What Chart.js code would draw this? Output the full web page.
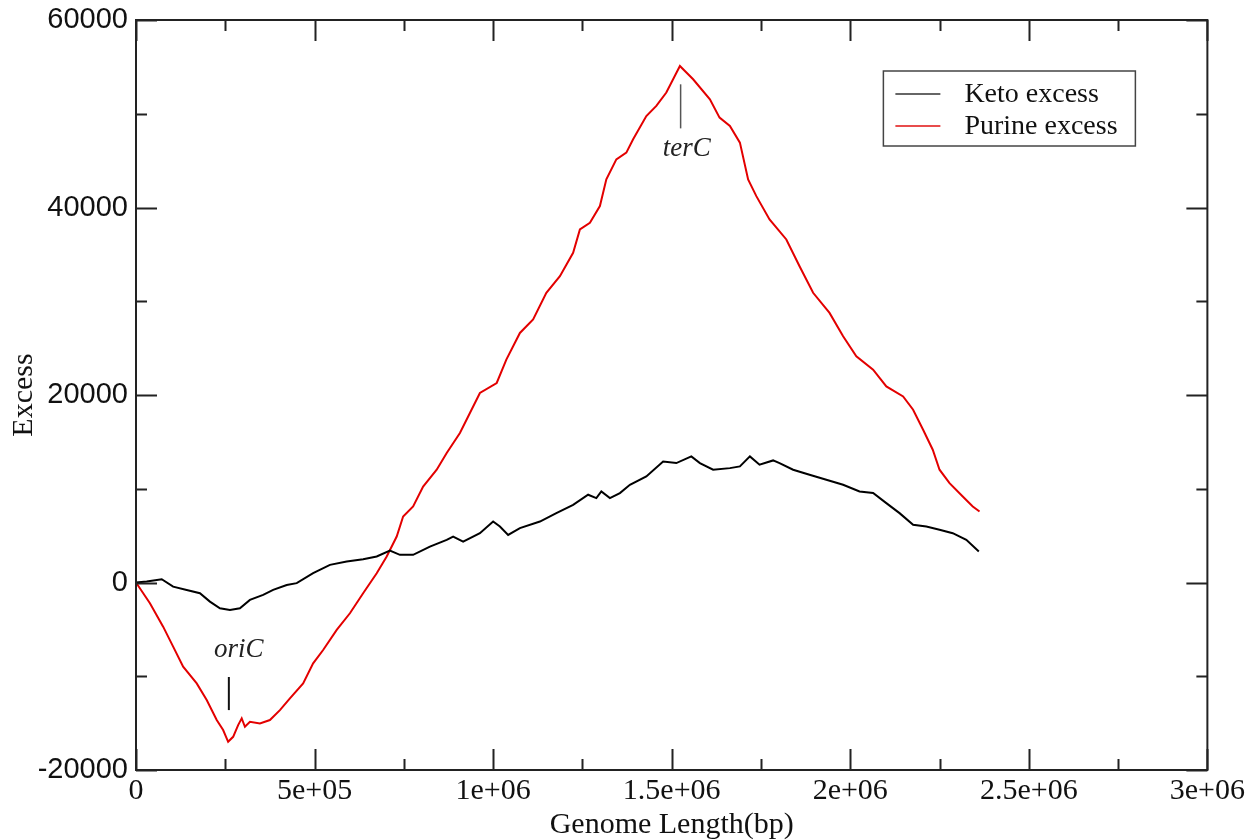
<!DOCTYPE html>
<html>
<head>
<meta charset="utf-8">
<title>Keto / Purine excess</title>
<script src="https://cdn.jsdelivr.net/npm/chart.js@4"></script>
<style>
  html, body { margin: 0; padding: 0; background: #fff; }
  #wrap { width: 1248px; height: 840px; position: relative; }
</style>
</head>
<body>
<div id="wrap"><canvas id="skew-chart"></canvas></div>
<script>
// Genome position (bp) and cumulative excess
const ketoPos = [0, 30000, 72000, 104000, 142000, 179000, 207000, 235000, 263000, 291000,
  319000, 356000, 384000, 422000, 450000, 496000, 543000, 590000, 636000, 674000,
  711000, 739000, 776000, 823000, 870000, 888000, 916000, 963000, 1000000, 1019000,
  1042000, 1075000, 1131000, 1177000, 1224000, 1266000, 1289000, 1303000, 1327000, 1355000,
  1383000, 1429000, 1476000, 1513000, 1555000, 1579000, 1616000, 1663000, 1691000, 1719000,
  1746000, 1784000, 1802000, 1840000, 1886000, 1933000, 1980000, 2026000, 2064000, 2101000,
  2138000, 2176000, 2213000, 2250000, 2287000, 2325000, 2360000];
const ketoExcess = [0, 100, 350, -440, -790, -1140, -2040, -2750, -2930, -2750,
  -1860, -1320, -790, -260, -70, 990, 1880, 2230, 2490, 2770,
  3400, 2950, 2950, 3830, 4550, 4900, 4370, 5260, 6500, 5970,
  5080, 5800, 6500, 7400, 8290, 9360, 9000, 9710, 9000, 9540,
  10420, 11310, 12910, 12740, 13450, 12740, 12030, 12200, 12380, 13450,
  12560, 13020, 12740, 12030, 11490, 10960, 10420, 9710, 9540, 8470,
  7400, 6150, 5970, 5620, 5260, 4550, 3300];

const purinePos = [0, 39000, 76000, 104000, 132000, 170000, 198000, 226000, 244000, 258000,
  272000, 286000, 296000, 305000, 319000, 347000, 375000, 403000, 431000, 468000,
  496000, 524000, 562000, 599000, 636000, 674000, 702000, 730000, 748000, 776000,
  804000, 842000, 870000, 907000, 935000, 963000, 1010000, 1037000, 1075000, 1112000,
  1149000, 1187000, 1224000, 1243000, 1271000, 1299000, 1317000, 1345000, 1373000, 1392000,
  1429000, 1457000, 1485000, 1523000, 1560000, 1607000, 1634000, 1663000, 1691000, 1714000,
  1737000, 1774000, 1821000, 1858000, 1896000, 1942000, 1980000, 2017000, 2064000, 2101000,
  2148000, 2176000, 2204000, 2231000, 2250000, 2278000, 2315000, 2343000, 2362000];
const purineExcess = [0, -2210, -4710, -6840, -8980, -10760, -12540, -14670, -15740, -16990,
  -16460, -15210, -14490, -15390, -14850, -15030, -14670, -13610, -12360, -10760,
  -8620, -7200, -5060, -3280, -1140, 990, 2770, 4900, 7040, 8110,
  10240, 12030, 13810, 15950, 18080, 20220, 21280, 23770, 26620, 28050,
  30900, 32670, 35170, 37660, 38370, 40150, 43000, 45140, 45850, 47270,
  49760, 50830, 52260, 55100, 53680, 51540, 49590, 48690, 46920, 43000,
  41210, 38730, 36590, 33740, 30900, 28760, 26260, 24130, 22710, 20920,
  19850, 18430, 16300, 14160, 12030, 10600, 9170, 8110, 7570];

const seriesNames = ['Keto excess', 'Purine excess'];

// axis ticks
const xMajor = [0, 500000, 1000000, 1500000, 2000000, 2500000, 3000000];
const xTickLabels = ['0', '5e+05', '1e+06', '1.5e+06', '2e+06', '2.5e+06', '3e+06'];
const xMinor = [250000, 750000, 1250000, 1750000, 2250000, 2750000];
const yMajor = [-20000, 0, 20000, 40000, 60000];
const yTickLabels = ['-20000', '0', '20000', '40000', '60000'];
const yMinor = [-10000, 10000, 30000, 50000];

// marker labels: text, x of text, y of text, x of bar, bar from, bar to
const markerText = ['oriC', 'terC'];
const markerTextX = [288000, 1542000];
const markerTextY = [-7200, 46200];
const markerBarX = [260000, 1525000];
const markerBarFrom = [-10080, 53140];
const markerBarTo = [-13610, 48440];

const toXY = (xs, ys) => xs.map((v, i) => ({ x: v, y: ys[i] }));

// box with inward ticks on all four sides, xmgrace style
const frameTicks = {
  id: 'frameTicks',
  afterDatasetsDraw(chart) {
    const { ctx, chartArea: a, scales: { x, y } } = chart;
    ctx.save();
    ctx.strokeStyle = '#222';
    ctx.lineWidth = 2;
    ctx.strokeRect(a.left, a.top, a.right - a.left, a.bottom - a.top);
    ctx.beginPath();
    const xMarks = (vals, len) => {
      for (const v of vals) {
        const px = Math.round(x.getPixelForValue(v)) + 0.5;
        ctx.moveTo(px, a.bottom); ctx.lineTo(px, a.bottom - len);
        ctx.moveTo(px, a.top); ctx.lineTo(px, a.top + len);
      }
    };
    const yMarks = (vals, len) => {
      for (const v of vals) {
        const py = Math.round(y.getPixelForValue(v)) + 0.5;
        ctx.moveTo(a.left, py); ctx.lineTo(a.left + len, py);
        ctx.moveTo(a.right, py); ctx.lineTo(a.right - len, py);
      }
    };
    xMarks(xMajor, 21); xMarks(xMinor, 11);
    yMarks(yMajor, 21); yMarks(yMinor, 11);
    ctx.stroke();
    ctx.restore();
  }
};

const markers = {
  id: 'markers',
  afterDatasetsDraw(chart) {
    const { ctx, scales: { x, y } } = chart;
    ctx.save();
    markerText.forEach((t, i) => {
      const bx = x.getPixelForValue(markerBarX[i]);
      ctx.beginPath();
      ctx.strokeStyle = i === 0 ? '#111' : '#555';
      ctx.lineWidth = i === 0 ? 2 : 1.5;
      ctx.moveTo(bx, y.getPixelForValue(markerBarFrom[i]));
      ctx.lineTo(bx, y.getPixelForValue(markerBarTo[i]));
      ctx.stroke();
      ctx.fillStyle = '#222';
      ctx.font = 'italic 27px "Liberation Serif"';
      ctx.textAlign = 'center';
      ctx.textBaseline = 'middle';
      ctx.fillText(t, x.getPixelForValue(markerTextX[i]), y.getPixelForValue(markerTextY[i]));
    });
    ctx.restore();
  }
};

// legend box inside the plot, top right
const boxLegend = {
  id: 'boxLegend',
  afterDraw(chart) {
    const { ctx, chartArea: a } = chart;
    const w = 252, h = 75;
    const left = a.right - 72 - w, top = a.top + 51;
    ctx.save();
    ctx.fillStyle = '#fff';
    ctx.fillRect(left, top, w, h);
    ctx.strokeStyle = '#444';
    ctx.lineWidth = 1.5;
    ctx.strokeRect(left, top, w, h);
    ctx.font = '28px "Liberation Serif"';
    ctx.textBaseline = 'middle';
    ctx.textAlign = 'left';
    chart.data.datasets.forEach((ds, i) => {
      const ly = top + 23 + i * 32;
      ctx.beginPath();
      ctx.strokeStyle = i === 0 ? '#333' : '#e01010';
      ctx.lineWidth = 1.5;
      ctx.moveTo(left + 12, ly);
      ctx.lineTo(left + 57, ly);
      ctx.stroke();
      ctx.fillStyle = '#111';
      ctx.fillText(ds.label, left + 81, ly + 1);
    });
    ctx.restore();
  }
};

new Chart(document.getElementById('skew-chart'), {
  type: 'line',
  data: {
    datasets: [{
      label: seriesNames[0],
      data: toXY(ketoPos, ketoExcess),
      borderColor: '#000',
      borderWidth: 2,
      pointRadius: 0,
      tension: 0
    }, {
      label: seriesNames[1],
      data: toXY(purinePos, purineExcess),
      borderColor: '#e30000',
      borderWidth: 2,
      pointRadius: 0,
      tension: 0
    }]
  },
  options: {
    responsive: true,
    maintainAspectRatio: false,
    animation: false,
    devicePixelRatio: 1,
    layout: { padding: { top: 20, right: 40, left: 0, bottom: 0 } },
    plugins: {
      legend: { display: false },
      tooltip: { enabled: false }
    },
    scales: {
      x: {
        type: 'linear',
        min: 0,
        max: 3000000,
        grid: { display: false, drawTicks: false },
        border: { display: false },
        ticks: {
          stepSize: 500000,
          autoSkip: false,
          maxRotation: 0,
          padding: 3,
          color: '#111',
          font: { family: '"Liberation Serif"', size: 30 },
          callback: (v) => {
            const i = xMajor.indexOf(v);
            return i >= 0 ? xTickLabels[i] : '';
          }
        },
        title: {
          display: true,
          text: 'Genome Length(bp)',
          color: '#111',
          font: { family: '"Liberation Serif"', size: 30, lineHeight: 1 },
          padding: { top: 0, bottom: 0 }
        },
        afterFit: (s) => { s.height = 70; }
      },
      y: {
        min: -20000,
        max: 60000,
        grid: { display: false, drawTicks: false },
        border: { display: false },
        ticks: {
          stepSize: 20000,
          padding: 8,
          color: '#111',
          font: { family: '"Liberation Sans"', size: 29, lineHeight: 0.8 },
          callback: (v) => {
            const i = yMajor.indexOf(v);
            return i >= 0 ? yTickLabels[i] : '';
          }
        },
        title: {
          display: true,
          text: 'Excess',
          color: '#111',
          font: { family: '"Liberation Serif"', size: 30 },
          padding: { top: 6, bottom: 0 }
        },
        afterFit: (s) => { s.width = 136; }
      }
    }
  },
  plugins: [frameTicks, markers, boxLegend]
});
</script>
</body>
</html>
